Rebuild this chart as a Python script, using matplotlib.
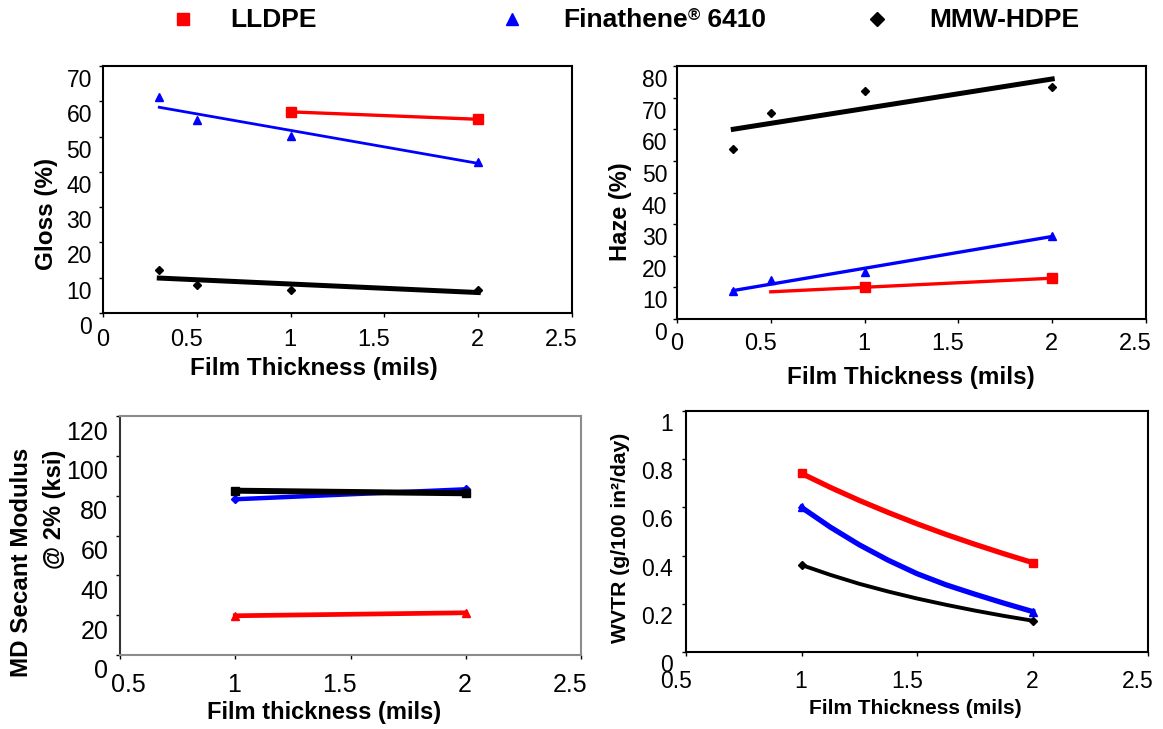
import matplotlib.pyplot as plt
from matplotlib.transforms import ScaledTranslation

plt.rcParams['font.family'] = ['Liberation Sans', 'DejaVu Sans']

# --- Gloss (%) ---
gloss_x = [0.3, 0.5, 1, 2]
gloss_fina = [61.1, 54.6, 50.1, 42.8]
gloss_hdpe = [12.3, 7.8, 6.4, 6.4]
gloss_x_lldpe = [1, 2]
gloss_lldpe = [57.0, 54.9]
gloss_fit_x = [0.3, 2]
gloss_fit_fina = [58.3, 42.4]
gloss_fit_hdpe = [9.9, 5.8]

# --- Haze (%) ---
haze_x = [0.3, 0.5, 1, 2]
haze_hdpe = [53.8, 65.1, 72.0, 73.3]
haze_fina = [8.7, 12.2, 14.8, 26.3]
haze_x_lldpe = [1, 2]
haze_lldpe = [10.1, 12.9]
haze_fit_x = [0.3, 2]
haze_fit_hdpe = [60.0, 75.9]
haze_fit_fina = [9.0, 26.1]
haze_fit_x_lldpe = [0.5, 2]
haze_fit_lldpe = [8.6, 12.9]

# --- MD secant modulus (ksi) ---
mod_x = [1, 2]
mod_lldpe = [19.7, 21.2]
mod_fina = [78.2, 83.2]
mod_hdpe = [82.5, 81.2]

# --- WVTR ---
wvtr_x = [1, 1.125, 1.25, 1.375, 1.5, 1.625, 1.75, 1.875, 2]
wvtr_lldpe = [0.741, 0.683, 0.629, 0.579, 0.532, 0.488, 0.447, 0.408, 0.371]
wvtr_fina = [0.600, 0.518, 0.445, 0.381, 0.325, 0.279, 0.240, 0.203, 0.168]
wvtr_hdpe = [0.361, 0.320, 0.283, 0.251, 0.222, 0.196, 0.172, 0.150, 0.130]

ticks_0 = [0, 0.5, 1, 1.5, 2, 2.5]
ticks_0_lab = ['0', '0.5', '1', '1.5', '2', '2.5']
ticks_05 = [0.5, 1, 1.5, 2, 2.5]
ticks_05_lab = ['0.5', '1', '1.5', '2', '2.5']

RED, BLUE, BLACK = '#ff0000', '#0000ff', '#000000'

W, H = 1163, 729
fig = plt.figure(figsize=(W / 100, H / 100), dpi=100)


def box(l, r, t, b):
    return [l / W, 1 - b / H, (r - l) / W, (b - t) / H]


def setup(ax, xlim, ylim, xt, xtl, yt, ytl, fsx, fsy, xpad, ypad, ydown):
    ax.set_xlim(xlim)
    ax.set_ylim(ylim)
    ax.set_xticks(xt)
    ax.set_xticklabels(xtl, fontsize=fsx)
    ax.set_yticks(yt)
    ax.set_yticklabels(ytl, fontsize=fsy)
    ax.tick_params(direction='out', length=3, width=1, colors='black')
    ax.tick_params(axis='x', pad=xpad)
    ax.tick_params(axis='y', pad=ypad)
    # labels sit a little right of the x ticks and below the y ticks, as in the original
    for lab in ax.get_xticklabels():
        lab.set_ha('right')
        lab.set_transform(lab.get_transform() + ScaledTranslation(0.06, 0, fig.dpi_scale_trans))
    for lab in ax.get_yticklabels():
        lab.set_transform(lab.get_transform() + ScaledTranslation(0, -ydown / 100, fig.dpi_scale_trans))
    for s in ax.spines.values():
        s.set_linewidth(1.5)


# Gloss
ax1 = fig.add_axes(box(103, 572, 66, 313))
ax1.plot(gloss_fit_x, gloss_fit_fina, color=BLUE, lw=2)
ax1.plot(gloss_fit_x, gloss_fit_hdpe, color=BLACK, lw=3.6)
ax1.plot(gloss_x_lldpe, gloss_lldpe, color=RED, lw=2.4, marker='s', ms=6.5)
ax1.plot(gloss_x, gloss_fina, ls='none', marker='^', color=BLUE, ms=6)
ax1.plot(gloss_x, gloss_hdpe, ls='none', marker='D', color=BLACK, ms=4)
setup(ax1, (0, 2.5), (0, 70), ticks_0, ticks_0_lab,
      [0, 10, 20, 30, 40, 50, 60, 70], ['0', '10', '20', '30', '40', '50', '60', '70'],
      17, 16.5, 8.5, 5, 12)

# Haze
ax2 = fig.add_axes(box(677, 1146, 66, 319))
ax2.plot(haze_fit_x, haze_fit_hdpe, color=BLACK, lw=3.6)
ax2.plot(haze_fit_x, haze_fit_fina, color=BLUE, lw=2.4)
ax2.plot(haze_fit_x_lldpe, haze_fit_lldpe, color=RED, lw=2.4)
ax2.plot(haze_x_lldpe, haze_lldpe, ls='none', marker='s', color=RED, ms=6.5)
ax2.plot(haze_x, haze_fina, ls='none', marker='^', color=BLUE, ms=6)
ax2.plot(haze_x, haze_hdpe, ls='none', marker='D', color=BLACK, ms=4)
setup(ax2, (0, 2.5), (0, 80), ticks_0, ticks_0_lab,
      [0, 10, 20, 30, 40, 50, 60, 70, 80], ['0', '10', '20', '30', '40', '50', '60', '70', '80'],
      17, 16.5, 7, 4, 12)

# MD secant modulus
ax3 = fig.add_axes(box(120, 581, 416, 655))
ax3.plot(mod_x, mod_lldpe, color=RED, lw=3.4, marker='^', ms=6)
ax3.plot(mod_x, mod_fina, color=BLUE, lw=3.2, marker='D', ms=4.5)
ax3.plot(mod_x, mod_hdpe, color=BLACK, lw=4.3, marker='s', ms=6)
setup(ax3, (0.5, 2.5), (0, 120), ticks_05, ticks_05_lab,
      [0, 20, 40, 60, 80, 100, 120], ['0', '20', '40', '60', '80', '100', '120'],
      18, 18, 10, 5.5, 14)
for s in ax3.spines.values():
    s.set_color('#8c8c8c')
ax3.spines['left'].set_color('#333333')
first = ax3.get_xticklabels()[0]
first.set_transform(first.get_transform() + ScaledTranslation(0.2, 0, fig.dpi_scale_trans))

# WVTR
ax4 = fig.add_axes(box(686, 1148, 411, 652))
ax4.plot(wvtr_x, wvtr_lldpe, color=RED, lw=3.8, marker='s', ms=6, markevery=[0, -1])
ax4.plot(wvtr_x, wvtr_fina, color=BLUE, lw=3.8, marker='^', ms=6, markevery=[0, -1])
ax4.plot(wvtr_x, wvtr_hdpe, color=BLACK, lw=2.8, marker='D', ms=4, markevery=[0, -1])
setup(ax4, (0.5, 2.5), (0, 1), ticks_05, ticks_05_lab,
      [0, 0.2, 0.4, 0.6, 0.8, 1], ['0', '0.2', '0.4', '0.6', '0.8', '1'],
      16.5, 16.5, 10, 6.5, 11)

# overlay in pixel coordinates for legend and axis titles
lax = fig.add_axes([0, 0, 1, 1])
lax.set_xlim(0, W)
lax.set_ylim(H, 0)
lax.axis('off')

bold = dict(fontweight='bold', color='black')
lax.plot([183], [19], 's', color=RED, ms=8)
lax.text(230, 27, 'LLDPE', fontsize=19, va='baseline', **bold)
lax.plot([512], [19], '^', color=BLUE, ms=8)
fin = lax.text(563, 27, 'Finathene', fontsize=19, va='baseline', **bold)
reg = lax.annotate('®', xy=(1, 1), xycoords=fin, ha='left', va='top', fontsize=12, **bold)
lax.annotate(' 6410', xy=(1, 0), xycoords=(reg, fin), ha='left', va='bottom', fontsize=19, **bold)
lax.plot([877], [19], 'D', color=BLACK, ms=7)
lax.text(929, 27, 'MMW-HDPE', fontsize=19, va='baseline', **bold)

lax.text(314, 368, 'Film Thickness (mils)', fontsize=17.5, ha='center', va='center', **bold)
lax.text(911, 377, 'Film Thickness (mils)', fontsize=17.5, ha='center', va='center', **bold)
lax.text(324, 712, 'Film thickness (mils)', fontsize=17, ha='center', va='center', **bold)
lax.text(915, 708, 'Film Thickness (mils)', fontsize=15, ha='center', va='center', **bold)

lax.text(47, 214, 'Gloss (%)', fontsize=17.5, rotation=90, ha='center', va='center', **bold)
lax.text(620, 212, 'Haze (%)', fontsize=17, rotation=90, ha='center', va='center', **bold)
lax.text(22, 448, 'MD Secant Modulus', fontsize=17.4, rotation=90, ha='center', va='top', **bold)
lax.text(55, 450, '@ 2% (ksi)', fontsize=17, rotation=90, ha='center', va='top', **bold)
lax.text(620, 538, 'WVTR (g/100 in²/day)', fontsize=15.2, rotation=90, ha='center', va='center', **bold)

fig.savefig('out.png', dpi=100)
